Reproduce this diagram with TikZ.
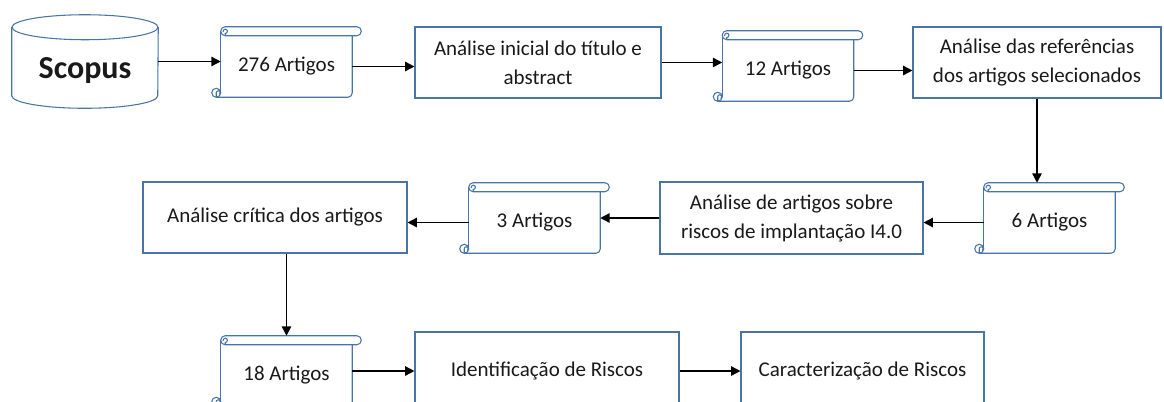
\documentclass[tikz,border=0pt]{standalone}
\usepackage{fontspec}
\setmainfont{Carlito}
\usetikzlibrary{arrows.meta,calc}

\definecolor{boxblue}{RGB}{72,116,166}

\tikzset{
	boxline/.style={draw=boxblue, line width=0.8pt},
	procbox/.style={boxline, rectangle, align=center, inner sep=0pt, text=black!90,
		font=\fontsize{15.75}{21.75}\selectfont},
	scrollbody/.style={rectangle, inner sep=0pt, minimum width=98.25pt, minimum height=45.75pt,
		text=black!90, font=\fontsize{15.75}{21.75}\selectfont},
	arr/.style={-{Triangle[length=7pt,width=7pt]}, line width=1.1pt, black},
}

% scroll outline round a body node
\newcommand{\drawscroll}[1]{%
	\draw[boxline, rounded corners=3.3pt] (#1.north west) rectangle ($(#1.north east)+(9,9)$);
	\draw[boxline] ($(#1.north west)+(4.5,0)$) -- ($(#1.north west)+(4.5,2.2)$) arc[start angle=-90, end angle=200, radius=2.2];
	\draw[boxline] ($(#1.north west)+(0,4.5)$) -- ($(#1.south west)+(0,4.5)$);
	\draw[boxline, rounded corners=3.3pt] ($(#1.south west)+(-4.5,0)$) -- (#1.south east) -- (#1.north east);
	\draw[boxline] ($(#1.south west)+(-4.5,4.5)$) circle[radius=4.5];
	\draw[boxline] ($(#1.south west)+(-4.5,0)$) -- ($(#1.south west)+(-4.5,4.5)$) arc[start angle=180, end angle=-60, radius=2];
}

\begin{document}
\begin{tikzpicture}[x=0.75pt, y=0.75pt]
	\useasboundingbox (0,0) rectangle (1164,-401);
	\clip (0,0) rectangle (1164,-401);

	\node (db) [inner sep=0pt, minimum width=109.5pt, minimum height=69.75pt, text=black!90,
		font=\bfseries\fontsize{24}{28}\selectfont, text height=25pt, text depth=0pt] at (85,-61.5) {Scopus};
	\node (s276) [scrollbody] at (286.5,-66.5) {276 Artigos};
	\node (b1) [procbox, minimum width=184.5pt, minimum height=53.25pt] at (538,-62.5) {Análise inicial do título e\\abstract};
	\node (s12) [scrollbody] at (788,-70.5) {12 Artigos};
	\node (b2) [procbox, minimum width=186pt, minimum height=53.25pt] at (1037,-62.5) {Análise das referências\\dos artigos selecionados};

	\node (s6) [scrollbody] at (1049.5,-222.5) {6 Artigos};
	\node (b3) [procbox, minimum width=197.25pt, minimum height=54pt] at (791.5,-218) {Análise de artigos sobre\\riscos de implantação I4.0};
	\node (s3) [scrollbody] at (534.5,-222.5) {3 Artigos};
	\node (b4) [procbox, minimum width=198pt, minimum height=53.25pt] at (275,-217.5) {Análise crítica dos artigos};

	\node (s18) [scrollbody] at (286.5,-375.5) {18 Artigos};
	\node (b5) [procbox, minimum width=198pt, minimum height=58.5pt] at (547,-371) {Identificação de Riscos};
	\node (b6) [procbox, minimum width=182.25pt, minimum height=58.5pt] at (862.5,-371) {Caracterização de Riscos};

	% database
	\draw[boxline] ($(db.north)+(0,-12.5)$) ellipse[x radius=73, y radius=12.5];
	\draw[boxline] ($(db.north west)+(0,-12.5)$) -- ($(db.south west)+(0,12.5)$)
		arc[start angle=180, end angle=360, x radius=73, y radius=12.5] -- ($(db.north east)+(0,-12.5)$);

	\drawscroll{s276}
	\drawscroll{s12}
	\drawscroll{s6}
	\drawscroll{s3}
	\drawscroll{s18}

	\coordinate (s6top) at ($(s6.north)+(0,9)$);
	\coordinate (s18top) at ($(s18.north)+(0,9)$);

	\path (db.east) edge [ arr ] (db.east -| s276.west);
	\path (s276.east) edge [ arr ] (s276.east -| b1.west);
	\path (b1.east) edge [ arr ] (b1.east -| s12.west);
	\path (s12.east) edge [ arr ] (s12.east -| b2.west);
	\path (b2.south) edge [ arr ] (b2.south |- s6top);
	\path (s6.west) edge [ arr ] (s6.west -| b3.east);
	\path (b3.west) edge [ arr ] (b3.west -| s3.east);
	\path (s3.west) edge [ arr ] (s3.west -| b4.east);
	\path (b4.south -| s18top) edge [ arr ] (s18top);
	\path (b5.west -| s18.east) edge [ arr ] (b5.west);
	\path (b5.east) edge [ arr ] (b6.west);
\end{tikzpicture}
\end{document}
